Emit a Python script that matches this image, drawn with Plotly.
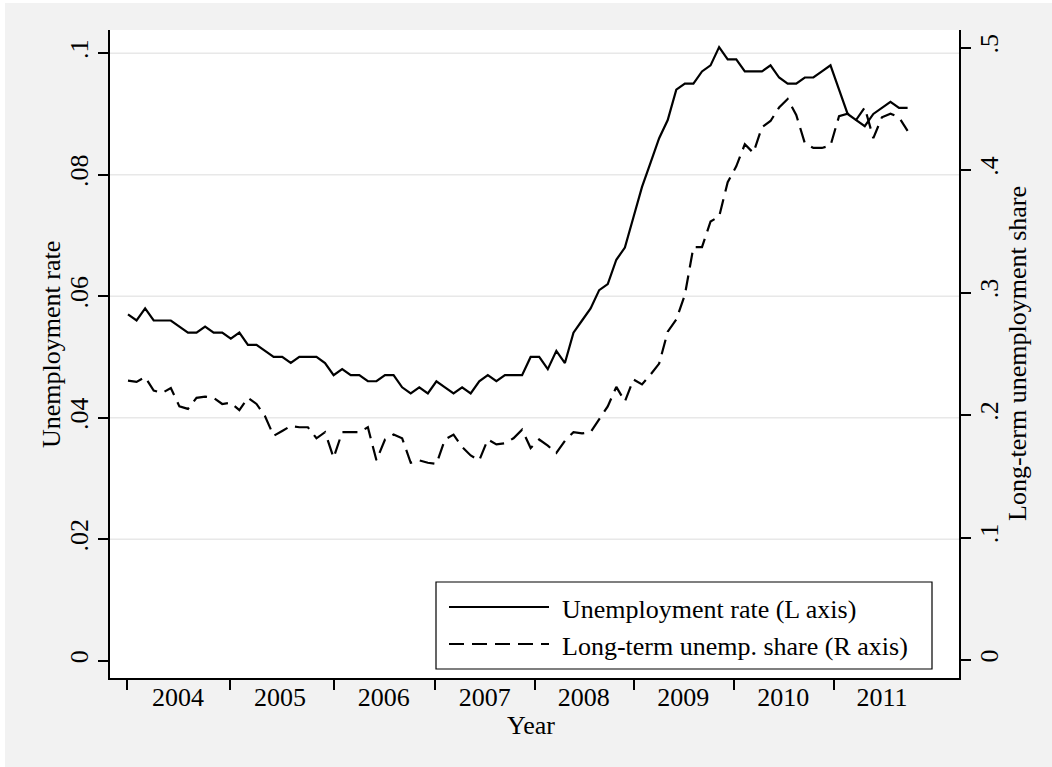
import pandas as pd
import plotly.graph_objects as go

# Monthly observations, January 2004 through August 2011
MONTHS = pd.period_range("2004-01", "2011-08", freq="M")

# Unemployment rate (left axis)
UNEMP_RATE = [
    0.057, 0.056, 0.058, 0.056, 0.056, 0.056, 0.055, 0.054, 0.054, 0.055, 0.054, 0.054,
    0.053, 0.054, 0.052, 0.052, 0.051, 0.050, 0.050, 0.049, 0.050, 0.050, 0.050, 0.049,
    0.047, 0.048, 0.047, 0.047, 0.046, 0.046, 0.047, 0.047, 0.045, 0.044, 0.045, 0.044,
    0.046, 0.045, 0.044, 0.045, 0.044, 0.046, 0.047, 0.046, 0.047, 0.047, 0.047, 0.050,
    0.050, 0.048, 0.051, 0.049, 0.054, 0.056, 0.058, 0.061, 0.062, 0.066, 0.068, 0.073,
    0.078, 0.082, 0.086, 0.089, 0.094, 0.095, 0.095, 0.097, 0.098, 0.101, 0.099, 0.099,
    0.097, 0.097, 0.097, 0.098, 0.096, 0.095, 0.095, 0.096, 0.096, 0.097, 0.098, 0.094,
    0.090, 0.089, 0.088, 0.090, 0.091, 0.092, 0.091, 0.091,
]

# Long-term share of the unemployed (right axis)
LT_SHARE = [
    0.228, 0.227, 0.231, 0.220, 0.218, 0.222, 0.207, 0.205, 0.214, 0.215, 0.214, 0.209,
    0.210, 0.204, 0.214, 0.209, 0.199, 0.183, 0.187, 0.191, 0.190, 0.190, 0.181, 0.186,
    0.165, 0.186, 0.186, 0.186, 0.190, 0.163, 0.180, 0.184, 0.181, 0.161, 0.163, 0.161,
    0.160, 0.180, 0.184, 0.174, 0.167, 0.163, 0.180, 0.176, 0.177, 0.181, 0.188, 0.173,
    0.180, 0.175, 0.169, 0.179, 0.186, 0.185, 0.186, 0.196, 0.207, 0.223, 0.211, 0.229,
    0.225, 0.233, 0.242, 0.268, 0.278, 0.298, 0.337, 0.337, 0.358, 0.362, 0.390, 0.403,
    0.421, 0.414, 0.435, 0.440, 0.451, 0.458, 0.445, 0.422, 0.418, 0.418, 0.420, 0.444,
    0.446, 0.441, 0.451, 0.426, 0.443, 0.446, 0.443, 0.432,
]

# Year axis: tick marks at year boundaries, labels between them (months since 2004m1)
YEARS = ["2004", "2005", "2006", "2007", "2008", "2009", "2010", "2011"]
YEAR_TICK_POS = [-0.15, 11.9, 24.0, 35.85, 47.5, 59.1, 70.75, 82.4]
YEAR_LABEL_POS = [5.85, 17.75, 29.85, 41.65, 53.2, 64.8, 76.5, 88.0]

LEFT_TICKS = [0, 0.02, 0.04, 0.06, 0.08, 0.1]
LEFT_TICK_TEXT = ["0", ".02", ".04", ".06", ".08", ".1"]
RIGHT_TICKS = [0, 0.1, 0.2, 0.3, 0.4, 0.5]
RIGHT_TICK_TEXT = ["0", ".1", ".2", ".3", ".4", ".5"]

FONT = "Liberation Serif"
FS = 26
BG = "#f2f2f2"
GRID = "#e8e8e8"
DASH = "15px,8px"

x = list(range(len(MONTHS)))

fig = go.Figure()
fig.add_trace(go.Scatter(
    x=x, y=UNEMP_RATE, mode="lines", name="Unemployment rate (L axis)",
    line=dict(color="black", width=2.2), yaxis="y", showlegend=False,
))
fig.add_trace(go.Scatter(
    x=x, y=LT_SHARE, mode="lines", name="Long-term unemp. share (R axis)",
    line=dict(color="black", width=2.2, dash=DASH), yaxis="y2", showlegend=False,
))

# plot region in pixels: x 110..959, y 30..678
L, R, T, B = 110, 959, 30, 678
W, H = 1052, 767
def px(xp):
    return (xp - L) / (R - L)
def py(yp):
    return (B - yp) / (B - T)

shapes = []
# light horizontal grid at the non-zero left-axis ticks
for v in LEFT_TICKS:
    if v > 0:
        shapes.append(dict(type="line", xref="paper", yref="y", x0=0, x1=1, y0=v, y1=v,
                           line=dict(color=GRID, width=1.5), layer="below"))
# thin white strips at the left and top edges of the image
shapes.append(dict(type="rect", xref="paper", yref="paper", x0=px(0), x1=px(5), y0=py(W), y1=py(0),
                   fillcolor="white", line=dict(width=0), layer="below"))
shapes.append(dict(type="rect", xref="paper", yref="paper", x0=px(0), x1=px(W), y0=py(3), y1=py(0),
                   fillcolor="white", line=dict(width=0), layer="below"))

# legend box with line samples
shapes.append(dict(type="rect", xref="paper", yref="paper", x0=px(436), x1=px(932), y0=py(669), y1=py(582),
                   fillcolor="white", line=dict(color="black", width=1.2)))
shapes.append(dict(type="line", xref="paper", yref="paper", x0=px(449), x1=px(549), y0=py(607), y1=py(607),
                   line=dict(color="black", width=2.2)))
shapes.append(dict(type="line", xref="paper", yref="paper", x0=px(449), x1=px(549), y0=py(644), y1=py(644),
                   line=dict(color="black", width=2.2, dash=DASH)))

font = dict(family=FONT, size=FS, color="black")
annotations = [
    dict(text="Unemployment rate (L axis)", xref="paper", yref="paper", x=px(560), y=py(609),
         xanchor="left", yanchor="middle", showarrow=False, font=font),
    dict(text="Long-term unemp. share (R axis)", xref="paper", yref="paper", x=px(560), y=py(646),
         xanchor="left", yanchor="middle", showarrow=False, font=font),
    dict(text="Unemployment rate", xref="paper", yref="paper", x=px(51), y=py(345),
         xanchor="center", yanchor="middle", textangle=-90, showarrow=False, font=font),
    dict(text="Long-term unemployment share", xref="paper", yref="paper", x=px(1017), y=py(354),
         xanchor="center", yanchor="middle", textangle=-90, showarrow=False, font=font),
    dict(text="Year", xref="paper", yref="paper", x=px(531), y=py(726),
         xanchor="center", yanchor="middle", showarrow=False, font=font),
]

axis_common = dict(showline=True, linecolor="black", linewidth=1.5, ticks="outside",
                   ticklen=10, tickwidth=1.5, tickcolor="black", showgrid=False,
                   zeroline=False, tickfont=font)

fig.update_layout(
    width=W, height=H,
    margin=dict(l=L, r=W - R, t=T, b=H - B, pad=0),
    paper_bgcolor=BG, plot_bgcolor="white",
    font=dict(family=FONT, size=FS, color="black"),
    showlegend=False,
    shapes=shapes,
    annotations=annotations,
    xaxis=dict(
        **{**axis_common, "ticks": ""},
        range=[-2.1, 97.0],
        tickmode="array", tickvals=YEAR_LABEL_POS, ticktext=YEARS,
        ticklabelstandoff=-5,
        minor=dict(tickmode="array", tickvals=YEAR_TICK_POS, ticks="outside",
                   ticklen=10, tickwidth=1.5, tickcolor="black", showgrid=False),
    ),
    yaxis=dict(
        **axis_common,
        range=[-0.00285, 0.10382],
        tickmode="array", tickvals=LEFT_TICKS, ticktext=LEFT_TICK_TEXT,
        tickangle=-90,
    ),
    yaxis2=dict(
        **axis_common,
        overlaying="y", side="right", anchor="x",
        range=[-0.0147, 0.5143],
        tickmode="array", tickvals=RIGHT_TICKS, ticktext=RIGHT_TICK_TEXT,
        tickangle=-90,
        ticklabelstandoff=-4,
    ),
)

fig.write_html("out.html")
